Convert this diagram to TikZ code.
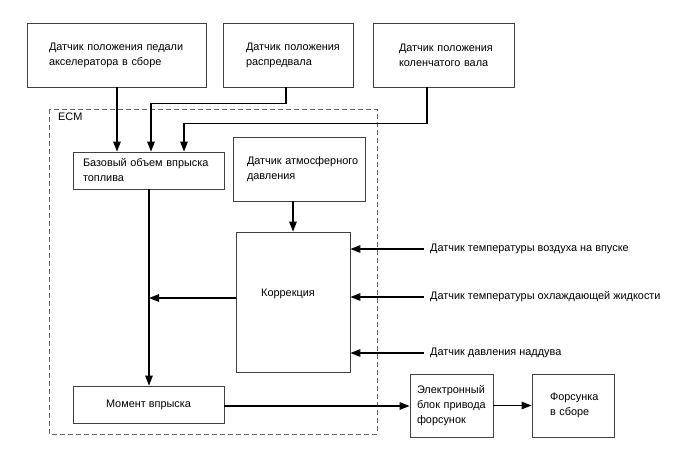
\documentclass[tikz,border=0pt]{standalone}
\usepackage{fontspec}
\setmainfont{Liberation Sans}
\usetikzlibrary{arrows.meta,calc}
\tikzset{
  txt/.style={font=\fontsize{10.9}{15}\selectfont},
  blk/.style={txt, draw=black!75, line width=0.8pt, inner xsep=0pt, inner ysep=0pt, align=left},
  cblk/.style={txt, draw=black!75, line width=0.8pt, inner sep=0pt, align=center},
  lbl/.style={txt, inner ysep=0pt, inner xsep=6pt, anchor=west},
  arr/.style={line width=1.3pt, -{Triangle[length=10pt,width=7.5pt]}},
  ecmbox/.style={draw=black!60, line width=0.8pt, dash pattern=on 5pt off 3pt}
}
\begin{document}
\begin{tikzpicture}[x=1pt,y=-1pt]
\useasboundingbox (0,0) rectangle (688,463);
% ECM dashed frame
\draw[ecmbox] (49,109) rectangle (377,434);
\node[txt, anchor=west, inner sep=0pt] (ecm) at (58,117) {ECM};
% top sensors
\node[blk, minimum width=179pt, minimum height=64pt, text width=135pt] (pedal) at (116.5,55)
  {\mbox{Датчик положения педали}\\\mbox{акселератора в сборе}};
\node[blk, minimum width=130pt, minimum height=64pt, text width=84pt] (cam) at (288,55)
  {\mbox{Датчик положения}\\\mbox{распредвала}};
\node[blk, minimum width=141pt, minimum height=64pt, text width=89pt] (crank) at (443.5,55)
  {\mbox{Датчик положения}\\\mbox{коленчатого вала}};
% ECM internals
\node[blk, minimum width=151pt, minimum height=37pt, text width=131pt] (base) at (148.5,170.5)
  {\mbox{Базовый объем впрыска}\\\mbox{топлива}};
\node[blk, minimum width=132pt, minimum height=64pt, text width=104pt] (atm) at (299,169)
  {\mbox{Датчик атмосферного}\\\mbox{давления}};
\node[cblk, minimum width=114pt, minimum height=140pt, text height=7pt, text depth=18pt] (corr) at (293,302)
  {Коррекция\hspace{10pt}};
\node[cblk, minimum width=151pt, minimum height=37pt] (mom) at (148.5,404.5) {Момент впрыска};
% outside
\node[blk, minimum width=83pt, minimum height=63pt, text width=69pt] (elec) at (451.5,405.5)
  {\mbox{Электронный}\\\mbox{блок привода}\\\mbox{форсунок}};
\node[blk, minimum width=82pt, minimum height=63pt, text width=46pt] (fors) at (573,405.5)
  {\mbox{Форсунка}\\\mbox{в сборе}};
% side sensors
\node[lbl] (s1) at (424,249) {Датчик температуры воздуха на впуске};
\node[lbl] (s2) at (424,297) {Датчик температуры охлаждающей жидкости};
\node[lbl] (s3) at (424,353) {Датчик давления наддува};
% connectors
\draw[arr] ([xshift=0.5pt]pedal.south) -- ([xshift=0.5pt]pedal.south |- base.north);
\draw[arr] ([xshift=-2pt]cam.south) -- ++(0,16) -| ([xshift=2.5pt]base.north);
\draw[arr] ([xshift=-16.5pt]crank.south) -- ++(0,36) -| ([xshift=35.5pt]base.north);
\draw[arr] ([xshift=0.5pt]base.south) -- ([xshift=0.5pt]mom.north);
\draw[arr] (atm.south -| corr.north) -- (corr.north);
\draw[arr] ([yshift=4pt]corr.west) -- ([yshift=4pt, xshift=0.5pt]corr.west -| base.south);
\draw[arr] (s1.west) -- (s1.west -| corr.east);
\draw[arr] (s2.west) -- (s2.west -| corr.east);
\draw[arr] (s3.west) -- (s3.west -| corr.east);
\draw[arr] ([yshift=-1.5pt]mom.east) -- ([yshift=-1.5pt]mom.east -| elec.west);
\draw[arr] (elec.east) -- (fors.west);
\end{tikzpicture}
\end{document}
